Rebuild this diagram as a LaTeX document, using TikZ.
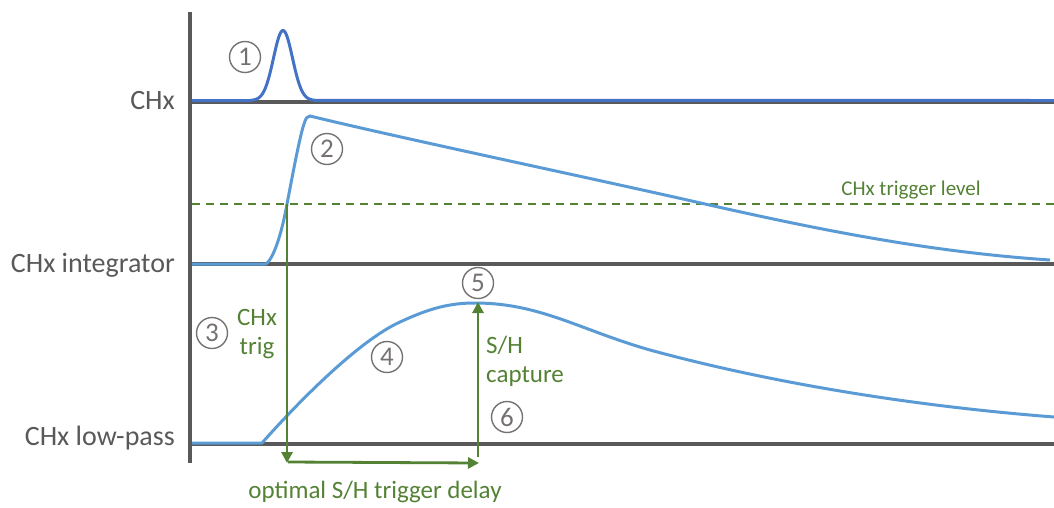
\documentclass[tikz,border=0pt]{standalone}
\usepackage{fontspec}
\setmainfont{Carlito}
\usetikzlibrary{arrows.meta}
\definecolor{axisgray}{HTML}{595959}
\definecolor{sigdark}{HTML}{4472C4}
\definecolor{siglight}{HTML}{5B9BD5}
\definecolor{trgreen}{HTML}{548235}
\definecolor{numgray}{HTML}{767171}
\tikzset{
  axisline/.style={draw=axisgray, line width=3.3pt},
  darksig/.style={draw=sigdark, line width=3pt, line join=round},
  lightsig/.style={draw=siglight, line width=3pt, line join=round},
  greenarrow/.style={draw=trgreen, line width=2.8pt, -{Triangle[length=11pt,width=11pt]}},
  trigdash/.style={draw=trgreen, line width=1.6pt, dash pattern=on 8pt off 6pt},
  leftlabel/.style={anchor=east, text=axisgray, font=\fontsize{28}{32}\selectfont, inner sep=0pt},
  greenlabel/.style={text=trgreen, font=\fontsize{25}{29}\selectfont, align=center, inner sep=0pt},
  circnum/.style={circle, draw=numgray, line width=1.4pt, minimum size=31pt, inner sep=0pt, text=numgray, font=\fontsize{27}{27}\selectfont}
}
\begin{document}
\begin{tikzpicture}[x=1pt,y=-1pt]
\useasboundingbox (0,0) rectangle (1054,507);
% axes
\coordinate (axtop) at (190,12);
\coordinate (axbot) at (190,463);
\draw[axisline] (axtop) -- (axbot);
\coordinate (b1l) at (190,102); \coordinate (b1r) at (1054,102);
\coordinate (b2l) at (190,264); \coordinate (b2r) at (1054,264);
\coordinate (b3l) at (190,444); \coordinate (b3r) at (1054,444);
\draw[axisline] (b1l) -- (b1r);
\draw[axisline] (b2l) -- (b2r);
\draw[axisline] (b3l) -- (b3r);
% labels
\node[leftlabel] (l1) at (175,101) {CHx};
\node[leftlabel] (l2) at (175,265) {CHx integrator};
\node[leftlabel] (l3) at (175,438) {CHx low-pass};
% trigger level
\coordinate (tl) at (192,204); \coordinate (tr) at (1054,204);
\draw[trigdash] (tl) -- (tr);
\node[text=trgreen, font=\fontsize{21}{24}\selectfont, inner sep=0pt] (tlab) at (911,190) {CHx trigger level};
% CHx pulse
\draw[darksig] (192,100.5) -- (250,100.5)
  -- plot[domain=250:316,samples=90] (\x,{100.5-70*exp(-((\x-283)/9.5)^2/2)})
  -- (1054,100.5);
% integrator
\draw[lightsig] (192,264) -- (266,264)
  .. controls (274,258) and (282,232) .. (287,204)
  .. controls (292,178) and (300,135) .. (304,124)
  .. controls (306,118) and (307,116) .. (310,116)
  .. controls (400,138) and (600,180) .. (705,204)
  .. controls (820,230) and (930,252) .. (1050,260);
% low-pass
\draw[lightsig] (192,443) -- (262,443)
  .. controls (300,400) and (360,340) .. (400,322)
  .. controls (430,308) and (450,303) .. (475,303)
  .. controls (540,303) and (580,330) .. (650,350)
  .. controls (760,380) and (900,405) .. (1054,417);
% green markers
\coordinate (trigtop) at (287,204);
\coordinate (trigbot) at (287,463);
\coordinate (delend) at (479,463);
\coordinate (capbot) at (478,457);
\coordinate (captop) at (478,302);
\draw[greenarrow] (trigtop) -- (trigbot);
\draw[greenarrow] (288,462) -- (delend);
\draw[greenarrow] (capbot) -- (captop);
\node[greenlabel] (trig) at (257,334) {CHx\\trig};
\node[greenlabel, align=left, anchor=west] (cap) at (486,361) {S/H\\capture};
\node[greenlabel] (delay) at (375,492) {optimal S/H trigger delay};
% circled numbers
\node[circnum] (n1) at (245,57) {1};
\node[circnum] (n2) at (327,149) {2};
\node[circnum] (n3) at (212,333) {3};
\node[circnum] (n4) at (387,357) {4};
\node[circnum] (n5) at (478,283) {5};
\node[circnum] (n6) at (507,417) {6};
\end{tikzpicture}
\end{document}
